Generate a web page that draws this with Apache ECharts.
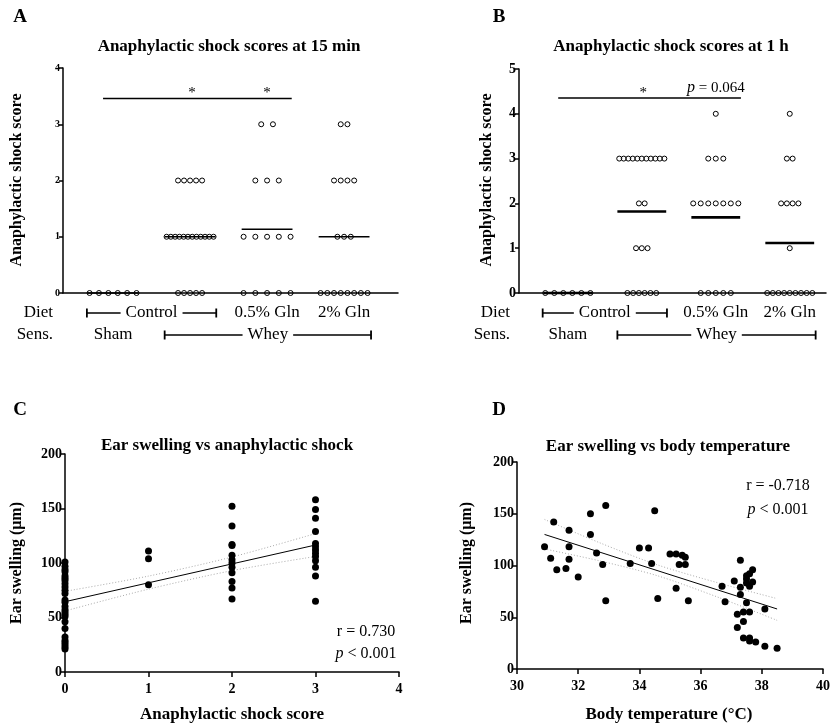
<!DOCTYPE html>
<html><head><meta charset="utf-8">
<script src="https://cdn.jsdelivr.net/npm/echarts@6/dist/echarts.min.js"></script>
<style>html,body{margin:0;padding:0;background:#fff}#c{width:836px;height:728px}</style>
</head><body><div id="c"></div>
<script>
// ---------- DATA ----------
const groupNames = ['Sham', 'Control', '0.5% Gln', '2% Gln'];
// Panel A: anaphylactic shock score at 15 min (one value per animal)
const sham15   = [0,0,0,0,0,0];
const control15 = [2,2,2,2,2, 1,1,1,1,1,1,1,1,1,1,1,1, 0,0,0,0,0];
const gln05_15 = [3,3, 2,2,2, 1,1,1,1,1, 0,0,0,0,0];
const gln2_15  = [3,3, 2,2,2,2, 1,1,1, 0,0,0,0,0,0,0,0];
// Panel B: anaphylactic shock score at 1 h
const sham1h   = [0,0,0,0,0,0];
const control1h = [3,3,3,3,3,3,3,3,3,3,3, 2,2, 1,1,1, 0,0,0,0,0,0];
const gln05_1h = [4, 3,3,3, 2,2,2,2,2,2,2, 0,0,0,0,0];
const gln2_1h  = [4, 3,3, 2,2,2,2, 1, 0,0,0,0,0,0,0,0,0];
// significance annotations (axis units)
const sig15 = { from: 0.52, to: 2.97, y: 3.46, stars: [1.675, 2.65] };
const sig1h = { from: 0.53, to: 3.0, y: 4.35, stars: [1.68], pAt: 2.66, pText: '= 0.064' };
// Panel C: ear swelling (µm) by anaphylactic shock score
const swellScore0 = [101,97,94,92,88,86,84,81,78,75,72,66,64,60,57,55,53,51,46,40,32,29,27,25,23,21];
const swellScore1 = [111,104,80];
const swellScore2 = [152,134,117,116,107,103,100,96,91,83,77,67];
const swellScore3 = [158,149,141,129,118,115,112,109,106,102,96,88,65];
const fitC      = [[0,64.5],[3,116.5]];
const ciUpperC  = [[0,74],[1,88],[2,105.5],[3,127]];
const ciLowerC  = [[0,56],[1,76],[2,93],[3,106]];
const statsC = ['r = 0.730', '< 0.001'];
// Panel D: ear swelling vs body temperature
const bodyTemp = [30.9,31.1,31.2,31.3,31.6,31.7,31.7,31.7,32.0,32.4,32.4,32.6,32.8,32.9,32.9,33.7,34.0,34.3,34.4,34.5,34.6,35.0,35.2,35.4,35.5,35.3,35.5,35.2,35.6,36.7,36.8,37.1,37.3,37.3,37.3,37.2,37.2,37.4,37.4,37.4,37.5,37.6,37.5,37.6,37.7,37.7,37.6,37.5,37.6,37.6,37.8,38.1,38.1,38.5,37.5];
const swellTemp = [118,107,142,96,97,134,118,106,89,150,130,112,101,158,66,102,117,117,102,153,68,111,111,110,108,101,101,78,66,80,65,85,105,79,72,53,40,55,46,30,64,55,83,92,96,84,80,90,30,27,26,58,22,20,87];
const fitD     = [[30.9,130],[38.5,58]];
const ciUpperD = [[30.9,144.5],[32.7,122],[34.6,100.5],[36.6,83],[38.5,68]];
const ciLowerD = [[30.9,116],[32.7,104.5],[34.6,90],[36.6,69],[38.5,47]];
const statsD = ['r = -0.718', '< 0.001'];

// ---------- BUILD ----------
const SERIF = '"Liberation Serif","Times New Roman",serif';
const SPAN = 0.61, MIN_STEP = 0.078, HALF = 0.33;

function dotPlot(values, center) {
  const rows = {};
  values.forEach(v => (rows[v] = rows[v] || []).push(v));
  const maxRow = Math.max(...Object.values(rows).map(r => r.length));
  const base = Math.max(SPAN / Math.max(maxRow - 1, 1), MIN_STEP);
  const pts = [];
  Object.keys(rows).forEach(k => {
    const n = rows[k].length;
    const step = n > 1 ? Math.min(SPAN / (n - 1), base) : 0;
    for (let j = 0; j < n; j++) pts.push([center + (j - (n - 1) / 2) * step, +k]);
  });
  return pts;
}
const mean = a => a.reduce((s, v) => s + v, 0) / a.length;

const panels = [
  { g: 0, off: 0.65, sets: [sham15, control15, gln05_15, gln2_15], lw: 1.6 },
  { g: 1, off: 0.66, sets: [sham1h, control1h, gln05_1h, gln2_1h], lw: 2.6 }
];

const series = [];
panels.forEach(p => {
  let pts = [];
  p.sets.forEach((vals, i) => {
    const c = i + p.off;
    pts = pts.concat(dotPlot(vals, c));
    const m = mean(vals);
    series.push({ type: 'line', xAxisIndex: p.g, yAxisIndex: p.g, data: [[c - HALF, m], [c + HALF, m]],
      symbol: 'none', clip: false, lineStyle: { color: '#000', width: p.lw }, z: 3, silent: true });
  });
  series.push({ type: 'scatter', xAxisIndex: p.g, yAxisIndex: p.g, data: pts, symbol: 'circle', symbolSize: 5,
    clip: false, itemStyle: { color: 'rgba(0,0,0,0)', borderColor: '#000', borderWidth: 1, opacity: 1 }, z: 4, silent: true });
});
[[0, sig15], [1, sig1h]].forEach(([g, s]) => {
  series.push({ type: 'line', xAxisIndex: g, yAxisIndex: g, data: [[s.from, s.y], [s.to, s.y]], symbol: 'none',
    clip: false, lineStyle: { color: '#000', width: 1.5 }, silent: true });
});

const cPts = [];
[swellScore0, swellScore1, swellScore2, swellScore3].forEach((arr, score) => arr.forEach(v => cPts.push([score, v])));
const dPts = bodyTemp.map((t, i) => [t, swellTemp[i]]);
series.push({ type: 'scatter', xAxisIndex: 2, yAxisIndex: 2, data: cPts, symbolSize: 7, clip: false, itemStyle: { color: '#000', opacity: 1 }, silent: true });
series.push({ type: 'scatter', xAxisIndex: 3, yAxisIndex: 3, data: dPts, symbolSize: 7, clip: false, itemStyle: { color: '#000', opacity: 1 }, silent: true });
[[2, fitC, ciUpperC, ciLowerC], [3, fitD, ciUpperD, ciLowerD]].forEach(([g, f, u, l]) => {
  series.push({ type: 'line', xAxisIndex: g, yAxisIndex: g, data: f, symbol: 'none', lineStyle: { color: '#000', width: 1 }, z: 5, silent: true });
  [u, l].forEach(ci => series.push({ type: 'line', xAxisIndex: g, yAxisIndex: g, data: ci, symbol: 'none', smooth: 0.3,
    lineStyle: { color: '#aaa', width: 1, type: [1, 2] }, z: 1, silent: true }));
});

const axisLine = { show: true, onZero: false, lineStyle: { color: '#000', width: 1.5 } };
function yAx(g, max, interval, fs) {
  return { gridIndex: g, type: 'value', min: 0, max, interval, axisLine, splitLine: { show: false },
    axisTick: { show: true, length: 4, lineStyle: { color: '#000', width: 1.5 } },
    axisLabel: { color: '#000', fontFamily: SERIF, fontWeight: 'bold', fontSize: fs, margin: 3 } };
}
function xCat(g, max) {
  return { gridIndex: g, type: 'value', min: 0, max, axisLine, axisTick: { show: false }, axisLabel: { show: false }, splitLine: { show: false } };
}
function xVal(g, min, max, interval) {
  return { gridIndex: g, type: 'value', min, max, interval, axisLine, splitLine: { show: false },
    axisTick: { show: true, length: 5, lineStyle: { color: '#000', width: 1.5 } },
    axisLabel: { color: '#000', fontFamily: SERIF, fontWeight: 'bold', fontSize: 14, margin: 10 } };
}

const chart = echarts.init(document.getElementById('c'));
chart.setOption({
  animation: false,
  backgroundColor: '#fff',
  grid: [
    { left: 63, top: 68, width: 335, height: 225 },
    { left: 519, top: 69, width: 307, height: 224 },
    { left: 65, top: 454, width: 334, height: 218 },
    { left: 517, top: 462, width: 306, height: 207 }
  ],
  xAxis: [xCat(0, 4.35), xCat(1, 4.15), xVal(2, 0, 4, 1), xVal(3, 30, 40, 2)],
  yAxis: [yAx(0, 4, 1, 10), yAx(1, 5, 1, 14), yAx(2, 200, 50, 14), yAx(3, 200, 50, 14)],
  series
});

// ---------- ANNOTATIONS ----------
const P = (g, x, y) => chart.convertToPixel({ gridIndex: g }, [x, y]);
const gfx = [];
function txt(text, x, y, size, opts = {}) {
  const st = Object.assign({ text, x: 0, y: 0, fill: '#000', fontFamily: SERIF, fontSize: size,
    fontWeight: opts.bold ? 'bold' : 'normal', align: opts.align || 'center', verticalAlign: 'middle',
    textAlign: opts.align || 'center', textVerticalAlign: 'middle' }, opts.style || {});
  gfx.push({ type: 'text', x, y, rotation: opts.rot || 0, style: st, z: opts.z || 10 });
}
function seg(x1, y1, x2, y2, w) {
  gfx.push({ type: 'line', shape: { x1, y1, x2, y2 }, style: { stroke: '#000', lineWidth: w || 1.5 }, z: 8 });
}
const italicP = { rich: { i: { fontStyle: 'italic', fontFamily: SERIF, fontSize: 16 } } };

// panel letters & titles
txt('A', 20, 17, 19, { bold: true });
txt('B', 499, 17, 19, { bold: true });
txt('C', 20, 410, 19, { bold: true });
txt('D', 499, 410, 19, { bold: true });
txt('Anaphylactic shock scores at 15 min', 229, 47, 17, { bold: true });
txt('Anaphylactic shock scores at 1 h', 671, 47, 17, { bold: true });
txt('Ear swelling vs anaphylactic shock', 227, 446, 17, { bold: true });
txt('Ear swelling vs body temperature', 668, 447, 17, { bold: true });
// axis titles
txt('Anaphylactic shock score', 17, 180, 16, { bold: true, rot: Math.PI / 2 });
txt('Anaphylactic shock score', 487, 180, 16, { bold: true, rot: Math.PI / 2 });
txt('Ear swelling (μm)', 17, 563, 16, { bold: true, rot: Math.PI / 2 });
txt('Ear swelling (μm)', 467, 563, 16, { bold: true, rot: Math.PI / 2 });
txt('Anaphylactic shock score', 232, 715, 17, { bold: true });
txt('Body temperature (°C)', 669, 715, 17, { bold: true });

// significance marks
sig15.stars.forEach(s => { const p = P(0, s, sig15.y); txt('*', p[0], p[1] - 5, 15); });
sig1h.stars.forEach(s => { const p = P(1, s, sig1h.y); txt('*', p[0], p[1] - 5, 15); });
{ const p = P(1, sig1h.pAt, sig1h.y); txt('{i|p} ' + sig1h.pText, p[0], p[1] - 10, 15, { style: italicP }); }

// group label rows under panels A and B
[[0, 0.65, 53], [1, 0.66, 510]].forEach(([g, off, rx]) => {
  const yD = 313, yS = 335;
  txt('Diet', rx, yD, 17, { align: 'right' });
  txt('Sens.', rx, yS, 17, { align: 'right' });
  const bracket = (a, b, y, label) => {
    const xa = P(g, a, 0)[0], xb = P(g, b, 0)[0];
    seg(xa, y, xb, y, 1.5);
    seg(xa, y - 4.5, xa, y + 4.5, 1.8);
    seg(xb, y - 4.5, xb, y + 4.5, 1.8);
    txt(label, (xa + xb) / 2, y, 17, { style: { backgroundColor: '#fff', padding: [0, 5] }, z: 12 });
  };
  bracket(0 + off - 0.34, 1 + off + 0.34, yD, groupNames[1]);
  bracket(1 + off - 0.33, 3 + off + 0.35, yS, 'Whey');
  txt(groupNames[2], P(g, 2 + off, 0)[0], yD, 17);
  txt(groupNames[3], P(g, 3 + off, 0)[0], yD, 17);
  txt(groupNames[0], P(g, 0 + off, 0)[0], yS, 17);
});

// correlation stats
txt(statsC[0], 366, 632, 16);
txt('{i|p} ' + statsC[1], 366, 654, 16, { style: italicP });
txt(statsD[0], 778, 486, 16);
txt('{i|p} ' + statsD[1], 778, 510, 16, { style: italicP });

chart.setOption({ graphic: gfx });
</script>
</body></html>
